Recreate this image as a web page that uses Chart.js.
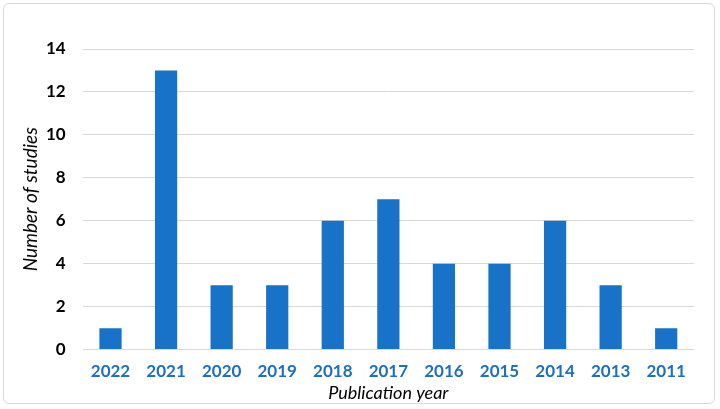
<!DOCTYPE html>
<html>
<head>
<meta charset="utf-8">
<script src="https://cdn.jsdelivr.net/npm/chart.js@4/dist/chart.umd.min.js"></script>
<style>
  html, body { margin: 0; padding: 0; background: #fff; }
  #wrap {
    position: absolute; left: 3px; top: 3px; width: 712px; height: 401px;
    border: 1px solid #d9d9d9; border-radius: 6px; box-sizing: border-box;
  }
  #wrap canvas { display: block; }
</style>
</head>
<body>
<div id="wrap"><canvas id="bar-chart"></canvas></div>
<script>
// values
const years = ['2022', '2021', '2020', '2019', '2018', '2017', '2016', '2015', '2014', '2013', '2011'];
const studies = [1, 13, 3, 3, 6, 7, 4, 4, 6, 3, 1];
const yTicks = [0, 2, 4, 6, 8, 10, 12, 14];

const font = "Lato, 'Open Sans', sans-serif";

document.addEventListener('DOMContentLoaded', function () {
    const ctx = document.getElementById('bar-chart').getContext('2d');

    new Chart(ctx, {
        type: 'bar',
        data: {
            labels: years,
            datasets: [{
                data: studies,
                backgroundColor: '#1872c8',
                barPercentage: 0.8,
                categoryPercentage: 0.5
            }]
        },
        options: {
            responsive: true,
            maintainAspectRatio: false,
            animation: false,
            layout: { padding: { top: 45, right: 20, bottom: 1, left: 17 } },
            plugins: {
                legend: { display: false },
                tooltip: { enabled: false }
            },
            scales: {
                x: {
                    grid: { display: false },
                    border: { display: false },
                    ticks: {
                        color: '#1f6fbf',
                        font: { family: font, size: 17, weight: 'bold' },
                        padding: 4
                    },
                    title: {
                        display: true,
                        text: 'Publication year',
                        color: '#000',
                        font: { family: font, size: 18, style: 'italic', lineHeight: 1 },
                        padding: { top: -2, bottom: 0 }
                    }
                },
                y: {
                    min: 0,
                    max: 14,
                    afterBuildTicks: function (axis) {
                        axis.ticks = yTicks.map(v => ({ value: v }));
                    },
                    grid: { color: '#d9d9d9', lineWidth: 1, drawTicks: false },
                    border: { display: false },
                    ticks: {
                        color: '#000',
                        font: { family: font, size: 17, weight: 'bold' },
                        padding: 17
                    },
                    title: {
                        display: true,
                        text: 'Number of studies',
                        color: '#000',
                        font: { family: font, size: 19, style: 'italic', lineHeight: 1 },
                        padding: { top: 0, bottom: -11 }
                    }
                }
            }
        }
    });
});
</script>
</body>
</html>
